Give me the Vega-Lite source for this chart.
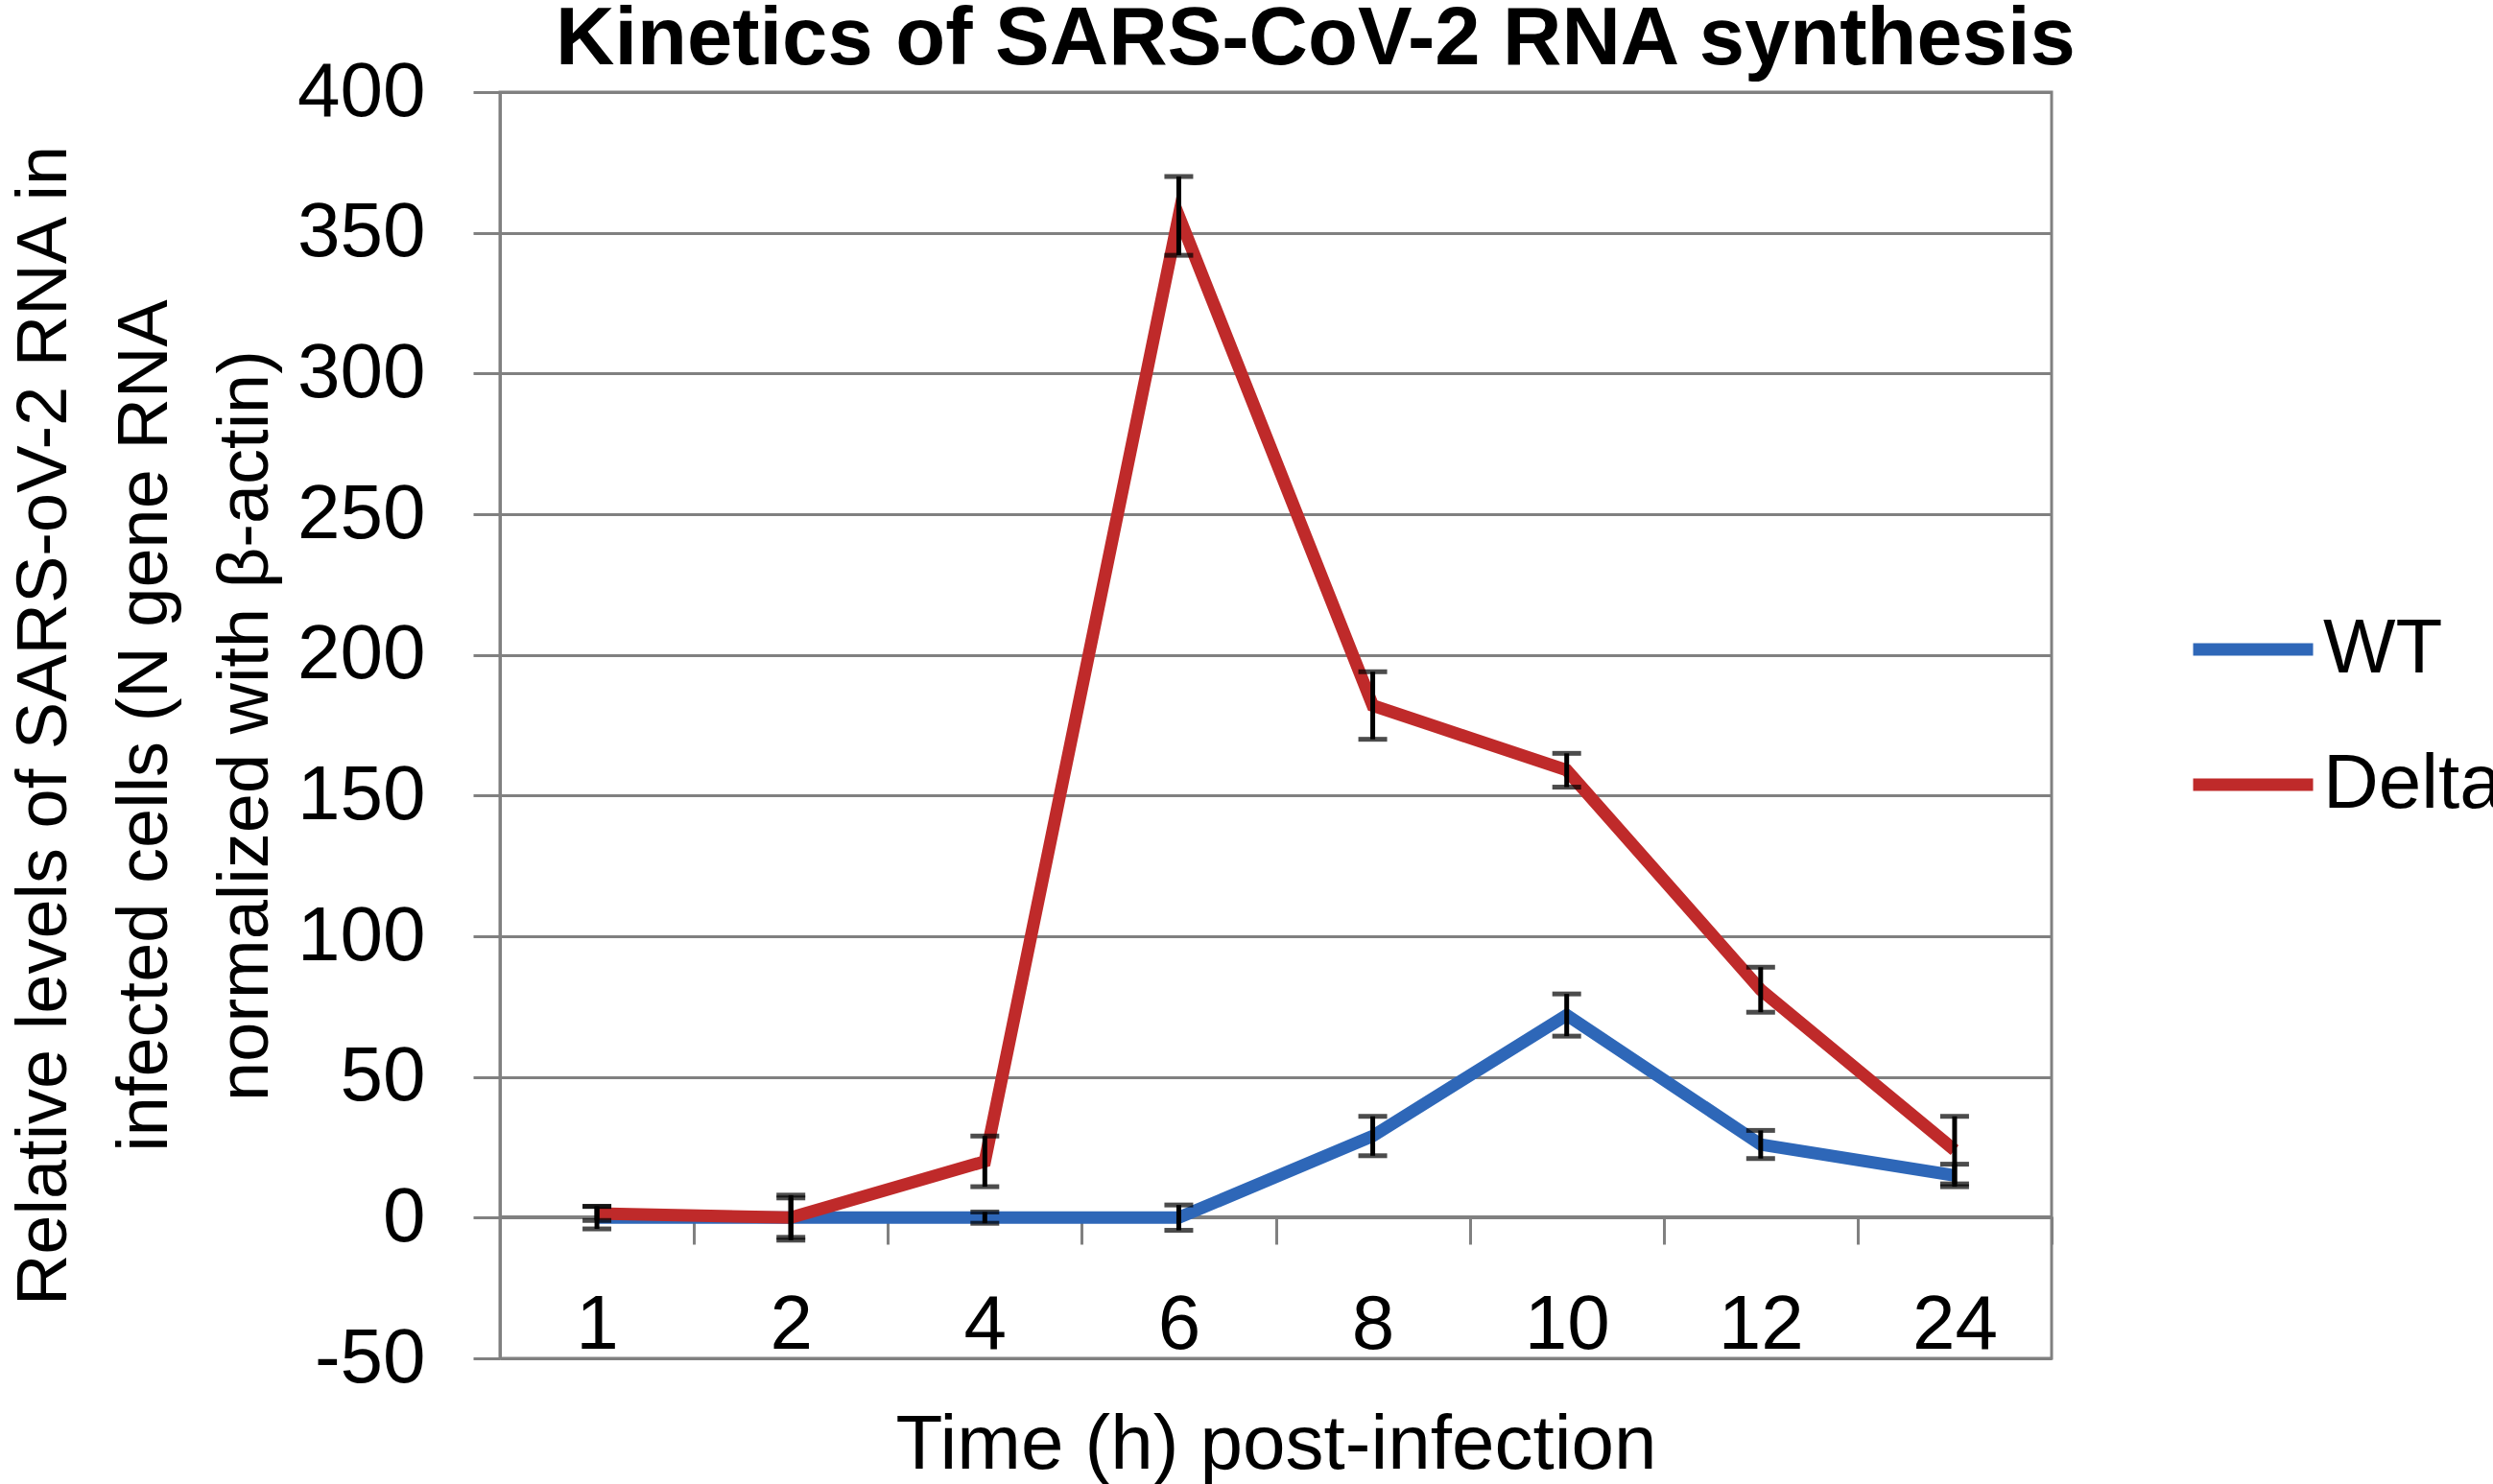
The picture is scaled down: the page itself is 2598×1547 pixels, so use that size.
{
  "$schema": "https://vega.github.io/schema/vega-lite/v6.json",
  "width": 1617,
  "height": 1320,
  "autosize": {"type": "none"},
  "padding": {"left": 521, "top": 96, "right": 460, "bottom": 131},
  "background": "white",
  "config": {
    "font": "Liberation Sans",
    "view": {"stroke": "#808080", "strokeWidth": 3},
    "axis": {
      "labelFont": "Liberation Sans",
      "labelFontSize": 80,
      "labelColor": "black",
      "titleFont": "Liberation Sans",
      "titleColor": "black",
      "titleFontWeight": "normal",
      "tickColor": "#808080",
      "tickWidth": 3,
      "domainColor": "#808080",
      "domainWidth": 3,
      "gridColor": "#808080",
      "gridWidth": 3,
      "gridOpacity": 1
    }
  },
  "title": {
    "text": "Kinetics of SARS-CoV-2 RNA synthesis",
    "font": "Liberation Sans",
    "fontSize": 85,
    "fontWeight": "bold",
    "color": "black",
    "anchor": "start",
    "frame": "group",
    "dx": 58,
    "baseline": "alphabetic",
    "offset": 0,
    "dy": 96
  },
  "data": {
    "values": [
      {"time": "1", "series": "WT", "value": 0, "err": 4},
      {"time": "2", "series": "WT", "value": 0, "err": 8},
      {"time": "4", "series": "WT", "value": 0, "err": 2},
      {"time": "6", "series": "WT", "value": 0, "err": 4.5},
      {"time": "8", "series": "WT", "value": 29, "err": 7},
      {"time": "10", "series": "WT", "value": 72, "err": 7.5},
      {"time": "12", "series": "WT", "value": 26, "err": 5},
      {"time": "24", "series": "WT", "value": 15, "err": 4},
      {"time": "1", "series": "Delta", "value": 1.5, "err": 2.5},
      {"time": "2", "series": "Delta", "value": 0, "err": 7},
      {"time": "4", "series": "Delta", "value": 20, "err": 9},
      {"time": "6", "series": "Delta", "value": 356, "err": 14},
      {"time": "8", "series": "Delta", "value": 182, "err": 12},
      {"time": "10", "series": "Delta", "value": 159, "err": 6},
      {"time": "12", "series": "Delta", "value": 81, "err": 8},
      {"time": "24", "series": "Delta", "value": 24, "err": 12}
    ]
  },
  "encoding": {
    "x": {
      "field": "time",
      "type": "ordinal",
      "sort": ["1", "2", "4", "6", "8", "10", "12", "24"],
      "scale": {"type": "band", "paddingInner": 0, "paddingOuter": 0},
      "axis": {
        "title": "Time (h) post-infection",
        "titleFontSize": 80,
        "labelAngle": 0,
        "offset": -148,
        "tickBand": "extent",
        "tickSize": 29,
        "labelPadding": 108,
        "labelBaseline": "alphabetic",
        "titleY": 262,
        "titleBaseline": "alphabetic"
      }
    },
    "y": {
      "field": "value",
      "type": "quantitative",
      "scale": {"domain": [-50, 400], "nice": false, "zero": false},
      "axis": {
        "values": [-50, 0, 50, 100, 150, 200, 250, 300, 350, 400],
        "labelExpr": "replace(datum.label, '−', '-')",
        "title": ["Relative levels of SARS-oV-2 RNA in", "infected cells  (N gene RNA", "normalized with β-actin)"],
        "titleFontSize": 74,
        "titleLineHeight": 105,
        "titleX": -453,
        "titleBaseline": "alphabetic",
        "tickSize": 28,
        "labelPadding": 50,
        "grid": true
      }
    }
  },
  "layer": [
    {
      "mark": {"type": "line", "strokeWidth": 13},
      "encoding": {
        "color": {
          "field": "series",
          "type": "nominal",
          "scale": {"domain": ["WT", "Delta"], "range": ["#2e67b8", "#bf2a2a"]},
          "legend": {
            "title": null,
            "orient": "none",
            "legendX": 1758,
            "legendY": 512,
            "padding": 0,
            "symbolType": "stroke",
            "symbolSize": 15625,
            "symbolStrokeWidth": 13,
            "labelFont": "Liberation Sans",
            "labelFontSize": 80,
            "labelColor": "black",
            "labelLimit": 400,
            "labelOffset": 4,
            "rowPadding": 32
          }
        }
      }
    },
    {
      "mark": {
        "type": "errorbar",
        "color": "black",
        "ticks": {"size": 30, "thickness": 5, "color": "black"},
        "rule": {"strokeWidth": 5, "color": "black"}
      },
      "encoding": {
        "yError": {"field": "err"},
        "detail": {"field": "series", "type": "nominal"}
      }
    }
  ]
}
